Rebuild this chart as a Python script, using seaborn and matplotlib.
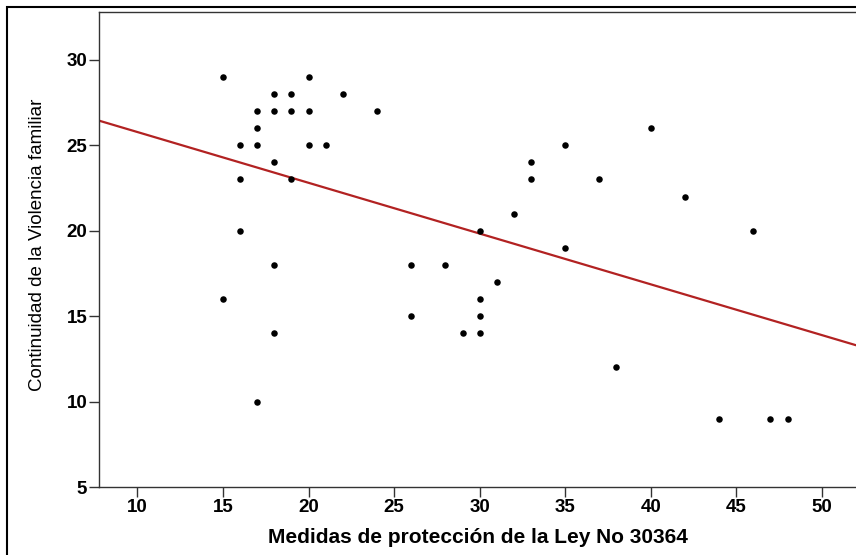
import numpy as np
import pandas as pd
import matplotlib
matplotlib.use("Agg")
import matplotlib.pyplot as plt
from matplotlib.patches import Rectangle
import seaborn as sns

# values
medidas = [15, 15,
           16, 16, 16,
           17, 17, 17, 17,
           18, 18, 18, 18, 18,
           19, 19, 19,
           20, 20, 20,
           21, 22, 24,
           26, 26, 28, 29,
           30, 30, 30, 30,
           31, 32, 33, 33, 35, 35,
           37, 38, 40, 42, 44, 46, 47, 48]
continuidad = [29, 16,
               25, 23, 20,
               27, 26, 25, 10,
               28, 27, 24, 18, 14,
               28, 27, 23,
               29, 27, 25,
               25, 28, 27,
               18, 15, 18, 14,
               20, 16, 15, 14,
               17, 21, 24, 23, 25, 19,
               23, 12, 26, 22, 9, 20, 9, 9]

x_label = "Medidas de protección de la Ley No 30364"
y_label = "Continuidad de la Violencia familiar"
x_ticks = [10, 15, 20, 25, 30, 35, 40, 45, 50]
y_ticks = [5, 10, 15, 20, 25, 30]

df = pd.DataFrame({"medidas": medidas, "continuidad": continuidad})

sns.set_style("ticks")
plt.rcParams['font.family'] = ['Liberation Sans', 'DejaVu Sans']

fig = plt.figure(figsize=(8.56, 5.55), dpi=100)
ax = fig.add_axes([99 / 856, 1 - 487 / 555, 1 - 99 / 856, (487 - 12) / 555])

ax.set_xlim(7.75, 52.0)
ax.set_ylim(5, 32.8)

sns.scatterplot(data=df, x="medidas", y="continuidad", ax=ax, color="black",
                s=22, edgecolor="black", linewidth=0, zorder=3)
sns.regplot(data=df, x="medidas", y="continuidad", ax=ax, scatter=False, ci=None,
            truncate=False, line_kws={"color": "#b22222", "lw": 1.6})

ax.set_xlim(7.75, 52.0)
ax.set_ylim(5, 32.8)
ax.set_xticks(x_ticks)
ax.set_yticks(y_ticks)
ax.tick_params(axis="both", direction="out", length=7, width=1, colors="#333333",
               labelsize=13.5, labelcolor="black", pad=1.5)
for lab in ax.get_xticklabels() + ax.get_yticklabels():
    lab.set_fontweight("bold")

ax.set_xlabel(x_label, fontsize=15, fontweight="bold", color="black")
ax.set_ylabel(y_label, fontsize=13.5, color="black")
ax.xaxis.set_label_coords((478 - 99) / 757, -(528 - 487) / 475)
ax.yaxis.set_label_coords(-(99 - 46) / 757, (487 - 245) / 475)

for side in ["left", "bottom", "top"]:
    ax.spines[side].set_color("#333333")
    ax.spines[side].set_linewidth(1)
ax.spines["right"].set_visible(False)

# outer frame of the picture
fig.patches.append(Rectangle((7 / 856, -0.1), 2, 1 - 7 / 555 + 0.1,
                             transform=fig.transFigure, fill=False,
                             edgecolor="black", lw=1.5))

fig.savefig("out.png", dpi=100)
